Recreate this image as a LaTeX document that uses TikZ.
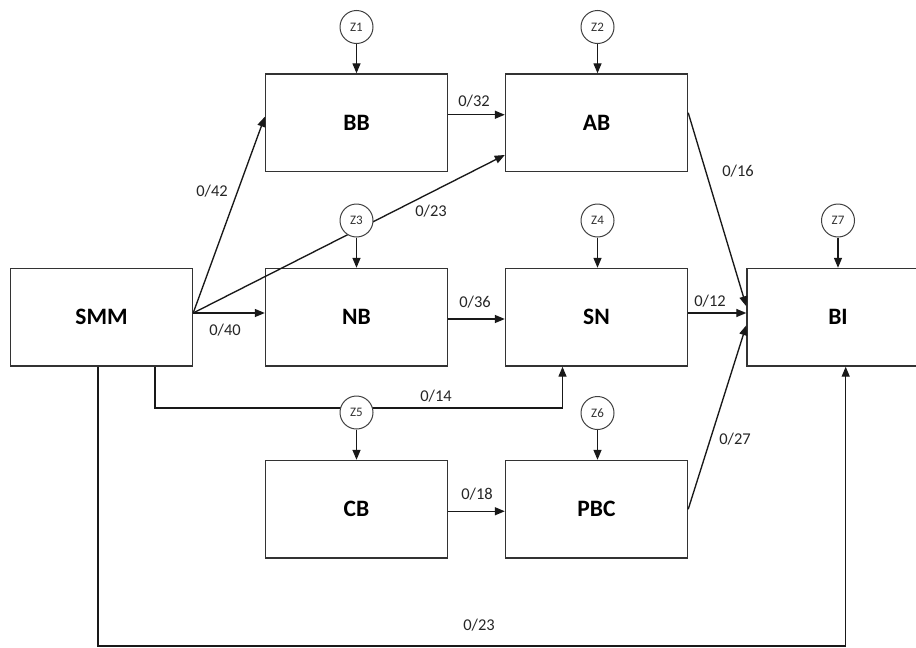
\documentclass[tikz,border=0pt]{standalone}
\usepackage{fontspec}
\setmainfont{Carlito}
\usetikzlibrary{arrows.meta,calc}
\begin{document}
\begin{tikzpicture}[x=1pt,y=-1pt,
  box/.style={draw=black!80,line width=1.4pt,minimum width=182pt,minimum height=97.5pt,inner sep=0pt,font=\bfseries\fontsize{23.5}{27}\selectfont,text=black},
  zc/.style={draw=black!75,line width=1pt,circle,fill=white,minimum size=33pt,inner sep=0pt,font=\fontsize{13}{15}\selectfont,text=black!80},
  con/.style={draw=black!90,line width=1.35pt},
  arr/.style={con,-{Triangle[length=10pt,width=8pt]}},
  lab/.style={font=\fontsize{16.5}{19}\selectfont,text=black!85,inner sep=0pt}]
\clip (0,0) rectangle (916,648);
\fill[white] (0,0) rectangle (916,648);
% boxes
\node[box] (SMM) at (101.5,317.25) {SMM};
\node[box] (BB) at (356.5,122.75) {BB};
\node[box] (AB) at (596.5,122.75) {AB};
\node[box] (NB) at (356.5,317.25) {NB};
\node[box] (SN) at (596.5,317.25) {SN};
\node[box] (BI) at (838,317.25) {BI};
\node[box] (CB) at (356.5,509.25) {CB};
\node[box] (PBC) at (596.5,509.25) {PBC};
% helper coordinates
\coordinate (so) at ($(SMM.east)+(0,-4.25)$);
\coordinate (sb1) at ($(SMM.south)+(53.5,0)$);
\coordinate (sb2) at ($(SMM.south)+(-3.5,0)$);
\coordinate (k1) at (sb1 |- 0,408);
\coordinate (k2) at ($(SN.south)+(-34,0)$);
\coordinate (k3) at (k2 |- 0,408);
\coordinate (m1) at (sb2 |- 0,646);
\coordinate (m2) at ($(BI.south)+(7.7,0)$);
\coordinate (m3) at (m2 |- 0,646);
% connectors from SMM
\draw[arr] (so) -- ($(BB.west)+(0,-6)$);
\draw[arr] (so) -- ($(NB.west)+(0,-4.25)$);
\draw[arr] (so) -- ($(AB.west)+(0,32.25)$);
\draw[arr] (sb1) -- (k1) -- (k3) -- (k2);
\draw[arr] (sb2) -- (m1) -- (m3) -- (m2);
% other connectors
\draw[arr] ($(BB.east)+(0,-8)$) -- ($(AB.west)+(0,-8)$);
\draw[arr] ($(NB.east)+(0,1.75)$) -- ($(SN.west)+(0,1.75)$);
\draw[arr] ($(AB.east)+(0,-10)$) -- ($(BI.west)+(0,-11)$);
\draw[arr] ($(SN.east)+(0,-4.25)$) -- ($(BI.west)+(0,-4.25)$);
\draw[arr] (PBC.east) -- ($(BI.west)+(0,8)$);
\draw[arr] ($(CB.east)+(0,2)$) -- ($(PBC.west)+(0,2)$);
% Z circles
\node[zc] (Z1) at (356.5,27) {Z1};
\node[zc] (Z2) at (597.5,27) {Z2};
\node[zc] (Z3) at (356.5,220.5) {Z3};
\node[zc] (Z4) at (597.5,220.5) {Z4};
\node[zc] (Z7) at (838,220.5) {Z7};
\node[zc] (Z5) at (356.5,412.5) {Z5};
\node[zc] (Z6) at (597.5,413) {Z6};
\draw[arr] (Z1) -- (Z1 |- BB.north);
\draw[arr] (Z2) -- (Z2 |- AB.north);
\draw[arr] (Z3) -- (Z3 |- NB.north);
\draw[arr] (Z4) -- (Z4 |- SN.north);
\draw[arr] (Z7) -- (Z7 |- BI.north);
\draw[arr] (Z5) -- (Z5 |- CB.north);
\draw[arr] (Z6) -- (Z6 |- PBC.north);
% labels
\node[lab] (l42) at (212,191) {0/42};
\node[lab] (l40) at (225,330) {0/40};
\node[lab] (l23a) at (431,211) {0/23};
\node[lab] (l32) at (474,101) {0/32};
\node[lab] (l36) at (475,302) {0/36};
\node[lab] (l16) at (738,171) {0/16};
\node[lab] (l12) at (710,301) {0/12};
\node[lab] (l27) at (735,439) {0/27};
\node[lab] (l18) at (477,494) {0/18};
\node[lab] (l14) at (436,396) {0/14};
\node[lab] (l23b) at (479,625) {0/23};
\end{tikzpicture}
\end{document}
